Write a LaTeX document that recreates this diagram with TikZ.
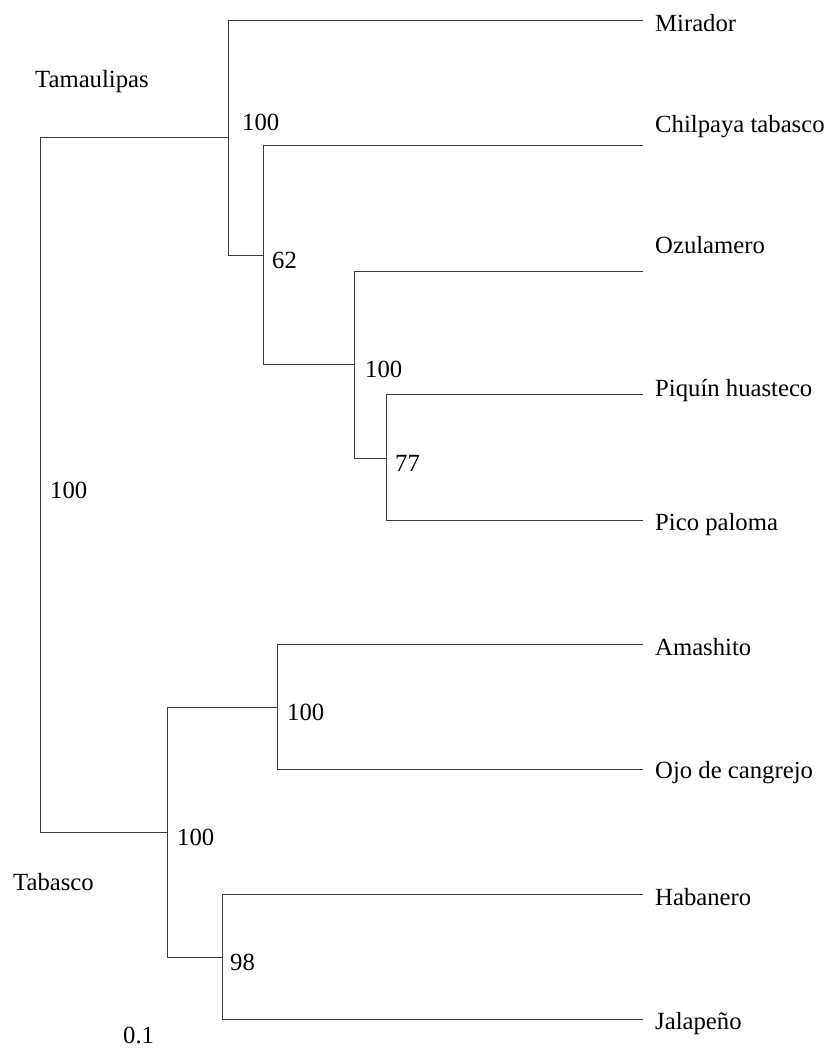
\documentclass[tikz,border=0pt]{standalone}
\usepackage{fontspec}
\setmainfont{Liberation Serif}
\usepackage{tikz}
\usetikzlibrary{positioning}
\definecolor{treegray}{RGB}{60,60,60}
\tikzset{branch/.style={draw=treegray,line width=1pt},
	leaf label/.style={anchor=base west,inner sep=0pt,font=\fontsize{24.7}{28}\selectfont},
	boot label/.style={anchor=base west,inner sep=0pt,font=\fontsize{24.7}{28}\selectfont},}

\begin{document}
\begin{tikzpicture}[x=1pt, y=-1pt]
	\useasboundingbox (0,0) rectangle (825,1059);
	% internal nodes
	\coordinate (root) at (40,490);
	\coordinate (tam) at (228,138);
	\coordinate (n62) at (263,255);
	\coordinate (ozu) at (354,364);
	\coordinate (pic) at (386,458);
	\coordinate (tab) at (167,832);
	\coordinate (ama) at (277,707);
	\coordinate (hab) at (222,957);
	% leaf ends
	\coordinate (mirador) at (643,21);
	\coordinate (chilpaya) at (643,146);
	\coordinate (ozulamero) at (643,271);
	\coordinate (piquin) at (643,394);
	\coordinate (pico) at (643,520);
	\coordinate (amashito) at (643,644);
	\coordinate (ojo) at (643,769);
	\coordinate (habanero) at (643,894);
	\coordinate (jalapeno) at (643,1019);

	\path[branch]
	(root) |- (tam)   (root) |- (tab)
	(tam) |- (mirador)   (tam) |- (n62)
	(n62) |- (chilpaya)   (n62) |- (ozu)
	(ozu) |- (ozulamero)   (ozu) |- (pic)
	(pic) |- (piquin)   (pic) |- (pico)
	(tab) |- (ama)   (tab) |- (hab)
	(ama) |- (amashito)   (ama) |- (ojo)
	(hab) |- (habanero)   (hab) |- (jalapeno);

	\node[leaf label] (lmirador) at (655,32) {Mirador};
	\node[leaf label] (lchilpaya) at (655,133) {Chilpaya tabasco};
	\node[leaf label] (lozulamero) at (655,253) {Ozulamero};
	\node[leaf label] (lpiquin) at (655,396) {Piquín huasteco};
	\node[leaf label] (lpico) at (655,530) {Pico paloma};
	\node[leaf label] (lamashito) at (655,655) {Amashito};
	\node[leaf label] (lojo) at (655,778) {Ojo de cangrejo};
	\node[leaf label] (lhabanero) at (655,905) {Habanero};
	\node[leaf label] (ljalapeno) at (655,1029) {Jalapeño};

	\node[boot label] (broot) at (50,498) {100};
	\node[boot label] (btam) at (242,131) {100};
	\node[boot label] (bn62) at (272,268) {62};
	\node[boot label] (bozu) at (365,377) {100};
	\node[boot label] (bpic) at (395,471) {77};
	\node[boot label] (btab) at (177,845) {100};
	\node[boot label] (bama) at (287,720) {100};
	\node[boot label] (bhab) at (230,970) {98};

	\node[leaf label] (tamaulipas) at (35,88) {Tamaulipas};
	\node[leaf label] (tabasco) at (13,890) {Tabasco};
	\node[leaf label] (scale) at (123,1043) {0.1};
\end{tikzpicture}
\end{document}
